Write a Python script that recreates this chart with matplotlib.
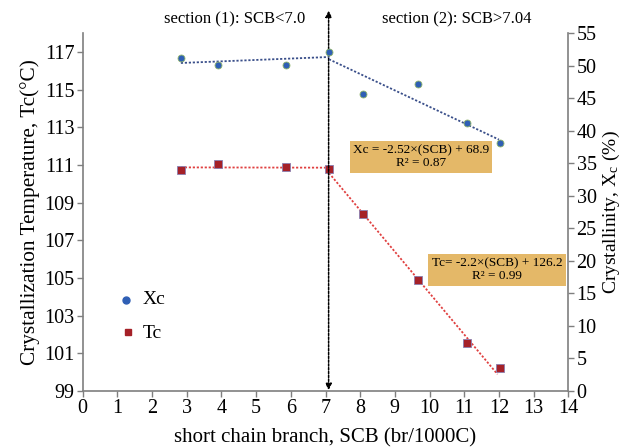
import numpy as np
import matplotlib
matplotlib.use("Agg")
import matplotlib.pyplot as plt

plt.rcParams['font.family'] = ['Liberation Serif', 'DejaVu Serif']
plt.rcParams['mathtext.fontset'] = 'stix'

# short chain branch content and the measured properties
scb = [2.83, 3.89, 5.87, 7.11, 8.09, 9.66, 11.07, 12.02]
xc = [51.15, 50.1, 50.1, 52.2, 45.7, 47.2, 41.2, 38.2]
tc = [110.72, 111.07, 110.9, 110.79, 108.38, 104.88, 101.55, 100.22]

# section (2) fits as reported
xc_slope, xc_icpt, xc_r2 = -2.52, 68.9, 0.87
tc_slope, tc_icpt, tc_r2 = -2.2, 126.2, 0.99
split = 7.1

grey = '#7f7f7f'
blue = '#2f5fb5'
red = '#a52128'

fig = plt.figure(figsize=(6.31, 4.47), dpi=100)
ax = fig.add_axes([0.1311, 0.1253, 0.7695, 0.8002])
ax2 = ax.twinx()

scb = np.array(scb)
xc = np.array(xc)
tc = np.array(tc)
s1 = scb <= split + 0.05

# section (1): straight fit through the first four points
p_tc = np.polyfit(scb[s1], tc[s1], 1)
p_xc = np.polyfit(scb[s1], xc[s1], 1)
x1 = np.array([scb[s1].min(), scb[s1].max()])
dots = (0, (1.2, 1.0))
ax.plot(x1, np.polyval(p_tc, x1), color='#e04040', ls=dots, lw=1.3, zorder=2)
ax2.plot(x1, np.polyval(p_xc, x1), color='#3a4f8a', ls=dots, lw=1.3, zorder=2)

# section (2): reported trend lines
x2 = np.array([split, 11.96])
ax.plot(x2, tc_slope * x2 + tc_icpt, color='#e04040', ls=dots, lw=1.3, zorder=2)
x2b = np.array([split, 12.0])
ax2.plot(x2b, xc_slope * x2b + xc_icpt, color='#3a4f8a', ls=dots, lw=1.3, zorder=2)

ax.plot(scb, tc, ls='none', marker='s', ms=5.5, mfc=red, mec='#8a7fb0', mew=0.6, zorder=3)
ax2.plot(scb, xc, ls='none', marker='o', ms=5, mfc=blue, mec='#8fb36a', mew=0.6, zorder=3)

ax.set_xlim(0, 14)
ax.set_ylim(99, 118)
ax2.set_ylim(0, 55)
ax.set_xticks(range(0, 15))
ax.set_yticks(range(99, 118, 2))
ax2.set_yticks(range(0, 56, 5))

for a in (ax, ax2):
    a.spines['top'].set_visible(False)
    for s in ('left', 'right', 'bottom'):
        a.spines[s].set_color(grey)
        a.spines[s].set_linewidth(1.2)
    a.tick_params(direction='out', length=4, width=1, color=grey, labelsize=14.5, pad=2)
ax.spines['right'].set_visible(False)
ax2.spines['left'].set_visible(False)
ax2.spines['bottom'].set_visible(False)

ax.set_xlabel('short chain branch, SCB (br/1000C)', fontsize=15, labelpad=7)
ax.set_ylabel('Crystallization Temperature, Tc(°C)', fontsize=15.3, labelpad=3)
ax2.set_ylabel('Crystallinity, X$_\\mathregular{c}$ (%)', fontsize=14, labelpad=3)

# boundary between the two sections
ax.annotate('', xy=(7.09, 99.05), xytext=(7.09, 119.2), annotation_clip=False,
            arrowprops=dict(arrowstyle='<|-|>', color='black', lw=1.1,
                            ls=(0, (1.5, 1.0)), mutation_scale=9, shrinkA=0, shrinkB=0))

fig.text(235 / 631, 1 - 19 / 447, 'section (1): SCB<7.0', ha='center', va='center', fontsize=12)
fig.text(457 / 631, 1 - 19 / 447, 'section (2): SCB>7.04', ha='center', va='center', fontsize=12)

box = dict(boxstyle='square,pad=0.25', fc='#e4b868', ec='none')
fig.text(421 / 631, 1 - 157 / 447,
         'Xc = %.2f×(SCB) + %.1f\nR² = %.2f' % (xc_slope, xc_icpt, xc_r2),
         ha='center', va='center', fontsize=9.5, linespacing=1.1, bbox=box)
fig.text(497 / 631, 1 - 270 / 447,
         'Tc= %.1f×(SCB) + %.1f\nR² = %.2f' % (tc_slope, tc_icpt, tc_r2),
         ha='center', va='center', fontsize=9.5, linespacing=1.1, bbox=box)

# legend
fig.lines.append(plt.Line2D([126 / 631], [1 - 300 / 447], ls='none', marker='o', ms=5,
                            mfc=blue, mec=blue, transform=fig.transFigure))
fig.lines.append(plt.Line2D([128 / 631], [1 - 332 / 447], ls='none', marker='s', ms=5,
                            mfc=red, mec=red, transform=fig.transFigure))
fig.text(143 / 631, 1 - 300 / 447, 'Xc', ha='left', va='center', fontsize=14)
fig.text(143 / 631, 1 - 333 / 447, 'Tc', ha='left', va='center', fontsize=14)

fig.savefig('out.png', dpi=100)
